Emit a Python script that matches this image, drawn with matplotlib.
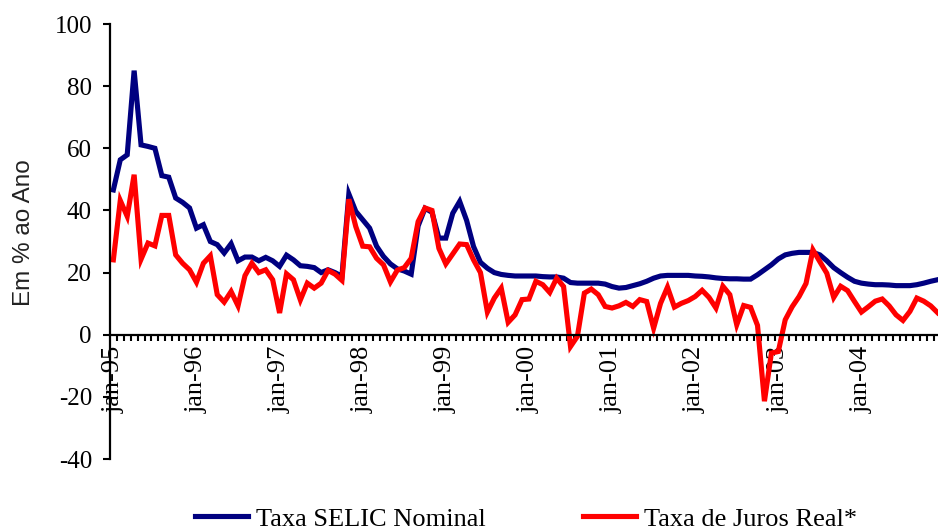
import numpy as np
import matplotlib.pyplot as plt

# Taxa SELIC nominal, mensal jan-95 a dez-04 (% a.a.)
selic_nominal = [
    46.6, 56.3, 57.9, 85.0, 61.1, 60.6, 60.0, 51.2, 50.7, 44.0, 42.6, 40.8,
    34.3, 35.4, 30.0, 29.0, 26.3, 29.3, 23.8, 25.0, 25.0, 23.8, 24.9, 23.8,
    22.0, 25.6, 24.1, 22.2, 22.0, 21.6, 20.0, 20.9, 20.0, 18.8, 45.3, 39.7,
    37.0, 34.3, 28.5, 25.2, 22.8, 21.2, 20.5, 19.5, 35.0, 40.7, 39.4, 31.1,
    31.1, 39.1, 42.9, 36.8, 28.4, 23.3, 21.4, 20.0, 19.4, 19.1, 18.9, 18.9,
    18.9, 18.9, 18.7, 18.6, 18.6, 18.2, 16.8, 16.6, 16.6, 16.6, 16.6, 16.3,
    15.5, 15.0, 15.2, 15.8, 16.4, 17.2, 18.2, 18.9, 19.1, 19.1, 19.1, 19.1,
    18.9, 18.8, 18.6, 18.3, 18.1, 18.0, 18.0, 17.9, 17.9, 19.3, 20.9, 22.5,
    24.4, 25.7, 26.2, 26.5, 26.5, 26.5, 25.7, 23.8, 21.6, 20.0, 18.5, 17.2,
    16.6, 16.3, 16.1, 16.1, 16.0, 15.8, 15.8, 15.8, 16.1, 16.6, 17.2, 17.7,
]

# Taxa de juros real (% a.a.)
juros_real = [
    24.1, 43.2, 38.1, 51.5, 24.3, 29.5, 28.6, 38.4, 38.4, 25.7, 23.0, 20.9,
    16.9, 23.0, 25.4, 12.9, 10.5, 13.9, 9.3, 19.0, 23.0, 20.0, 20.9, 17.7,
    7.0, 19.6, 17.7, 11.2, 16.6, 15.0, 16.6, 20.7, 19.5, 17.5, 43.6, 34.8,
    28.5, 28.3, 24.6, 22.5, 17.0, 20.8, 21.6, 24.6, 36.4, 40.8, 40.0, 27.8,
    22.8, 26.0, 29.2, 29.0, 24.1, 20.0, 7.3, 11.8, 15.0, 4.0, 6.4, 11.3,
    11.5, 17.2, 16.1, 13.6, 18.2, 15.5, -3.8, -0.5, 13.4, 14.7, 12.9, 9.1,
    8.6, 9.3, 10.4, 9.1, 11.3, 10.7, 2.1, 10.1, 15.3, 8.9, 10.1, 11.0,
    12.3, 14.3, 12.0, 8.6, 15.6, 12.9, 3.2, 9.4, 8.8, 3.0, -21.4, -5.9,
    -5.4, 4.8, 9.0, 12.3, 16.5, 27.3, 23.5, 19.8, 12.0, 15.6, 14.2, 10.7,
    7.3, 9.0, 10.8, 11.5, 9.3, 6.4, 4.6, 7.5, 11.8, 10.8, 9.3, 7.1,
]

anos = ['95', '96', '97', '98', '99', '00', '01', '02', '03', '04']
rotulos = ['jan-' + a for a in anos]
y_ticks = [-40, -20, 0, 20, 40, 60, 80, 100]

serif = ['Liberation Serif', 'DejaVu Serif']

fig = plt.figure(figsize=(9.38, 5.29), dpi=100)
ax = fig.add_axes([0.1173, 0.1323, 0.8845, 0.8223])

x = np.arange(len(selic_nominal))
ax.plot(x, selic_nominal, color='#000080', linewidth=3.7, label='Taxa SELIC Nominal',
        solid_joinstyle='miter')
ax.plot(x, juros_real, color='#FF0000', linewidth=3.7, label='Taxa de Juros Real*',
        solid_joinstyle='miter')

ax.set_xlim(-0.48, len(x) - 0.7)
ax.set_ylim(-40, 100)

for s in ['top', 'right']:
    ax.spines[s].set_visible(False)
ax.spines['bottom'].set_position(('data', 0))
ax.spines['bottom'].set_linewidth(1.6)
ax.spines['left'].set_linewidth(1.6)

ax.set_yticks(y_ticks)
ax.set_yticklabels([str(v) for v in y_ticks], family=serif, fontsize=18)
ax.tick_params(axis='y', direction='out', length=5, width=1.5, pad=8)

ax.set_xticks(x[::12])
ax.set_xticklabels(rotulos, rotation=90, family=serif, fontsize=19, va='top')
ax.set_xticks(x[:-1] + 0.5, minor=True)
ax.tick_params(axis='x', which='major', length=0, pad=8)
ax.tick_params(axis='x', which='minor', direction='out', length=4, width=1.5)

ax.set_ylabel('Em % ao Ano', family=['Liberation Sans', 'DejaVu Sans'], fontsize=17.5,
              color='#222222')
ax.yaxis.set_label_coords(-0.090, 0.52)

fig.legend(loc='lower center', bbox_to_anchor=(0.561, -0.048), ncol=2, frameon=False,
           prop={'family': serif, 'size': 19}, handlelength=2.0, handletextpad=0.3,
           columnspacing=3.7)

fig.savefig('out.png', dpi=100)
